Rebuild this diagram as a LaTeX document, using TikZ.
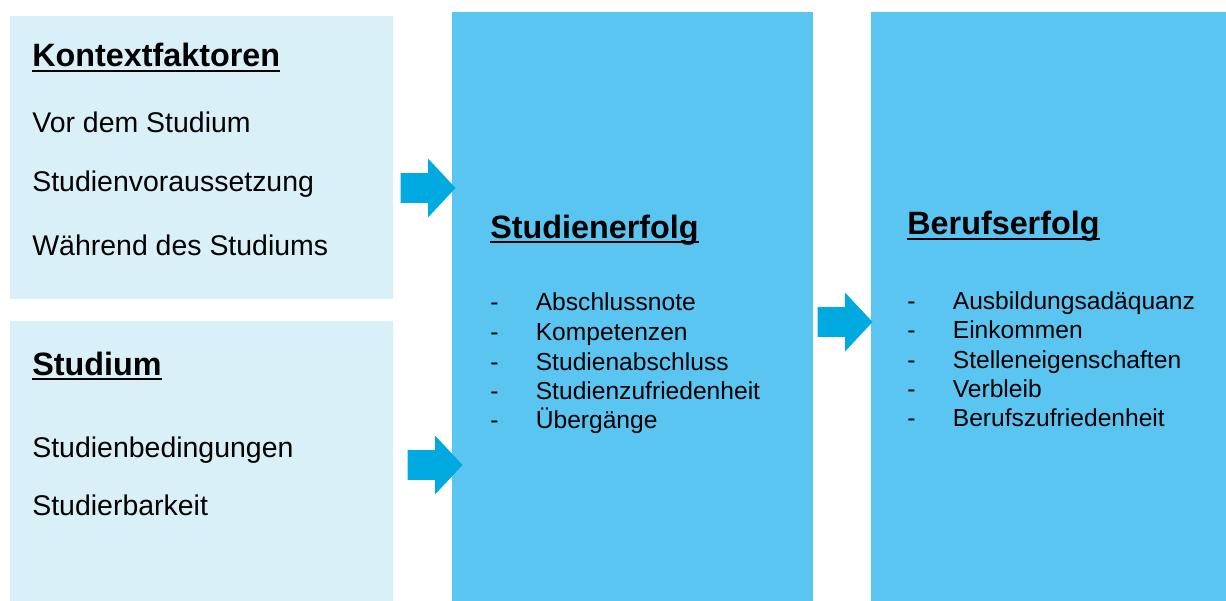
\documentclass[tikz,border=0pt]{standalone}
\usepackage{fontspec}
\setmainfont{Liberation Sans}
\usepackage{tikz}
\usetikzlibrary{shapes.arrows}
\definecolor{hellblau}{HTML}{DAF0F8}
\definecolor{mittelblau}{HTML}{5BC5F2}
\definecolor{pfeilblau}{HTML}{00A9E0}
\newcommand{\titelstrich}[1]{\setbox0\hbox{\bfseries #1}\rlap{\rule[-2.6pt]{\wd0}{1.1pt}}\box0}
\newcommand{\punkt}[1]{\makebox[0.91cm][l]{-}#1}

\begin{document}
\begin{tikzpicture}[x=0.02cm, y=-0.02cm,
           hellbox/.style={fill=hellblau, inner sep=0pt, anchor=north west},
           blaubox/.style={fill=mittelblau, inner sep=0pt, anchor=north west,
              minimum width=7.2cm, minimum height=11.78cm},
           titel/.style={anchor=base west, inner sep=0pt,
              font=\fontsize{18.4}{21}\selectfont},
           eintrag/.style={anchor=base west, inner sep=0pt,
              font=\fontsize{16.2}{19}\selectfont},
           liste/.style={anchor=base west, inner sep=0pt,
              font=\fontsize{14}{17}\selectfont},
           blockpfeil/.style={single arrow, fill=pfeilblau, inner xsep=0pt,
              inner ysep=0.29cm, minimum height=1.1cm, anchor=tip,
              single arrow head extend=0.29cm, single arrow tip angle=94},
        ]
        \useasboundingbox (0,0) rectangle (1226,601);

        % Kaesten
        \node at (10,16) (kontext) [hellbox, minimum width=7.66cm, minimum height=5.66cm] {};
        \node at (10,321) (studium) [hellbox, minimum width=7.66cm, minimum height=5.6cm] {};
        \node at (452,12) (erfolg) [blaubox, minimum width=7.22cm] {};
        \node at (871,12) (beruf) [blaubox, minimum width=7.1cm] {};

        % Kontextfaktoren
        \node at (32,67) (kontexttitel) [titel] {\titelstrich{Kontextfaktoren}};
        \node at (32,133) (vorstudium) [eintrag] {Vor dem Studium};
        \node at (32,192) (voraussetzung) [eintrag] {Studienvoraussetzung};
        \node at (32,255) (waehrend) [eintrag] {Während des Studiums};

        % Studium
        \node at (32,375) (studiumtitel) [titel] {\titelstrich{Studium}};
        \node at (32,457) (bedingungen) [eintrag] {Studienbedingungen};
        \node at (32,515) (barkeit) [eintrag] {Studierbarkeit};

        % Studienerfolg
        \node at (490,238) (erfolgtitel) [titel] {\titelstrich{Studienerfolg}};
        \node at (490,310) (note) [liste] {\punkt{Abschlussnote}};
        \node at (490,340) (kompetenz) [liste] {\punkt{Kompetenzen}};
        \node at (490,370) (abschluss) [liste] {\punkt{Studienabschluss}};
        \node at (490,399) (zufrieden) [liste] {\punkt{Studienzufriedenheit}};
        \node at (490,428) (uebergang) [liste] {\punkt{Übergänge}};

        % Berufserfolg
        \node at (907,235) (berufstitel) [titel] {\titelstrich{Berufserfolg}};
        \node at (907,309) (adaequanz) [liste] {\punkt{Ausbildungsadäquanz}};
        \node at (907,338) (einkommen) [liste] {\punkt{Einkommen}};
        \node at (907,368) (stelle) [liste] {\punkt{Stelleneigenschaften}};
        \node at (907,397) (verbleib) [liste] {\punkt{Verbleib}};
        \node at (907,426) (berufzufrieden) [liste] {\punkt{Berufszufriedenheit}};

        % Pfeile
        \node at (456,188) (pfeilkontext) [blockpfeil] {};
        \node at (463,465) (pfeilstudium) [blockpfeil] {};
        \node at (873,322) (pfeilberuf) [blockpfeil] {};
     \end{tikzpicture}
\end{document}
